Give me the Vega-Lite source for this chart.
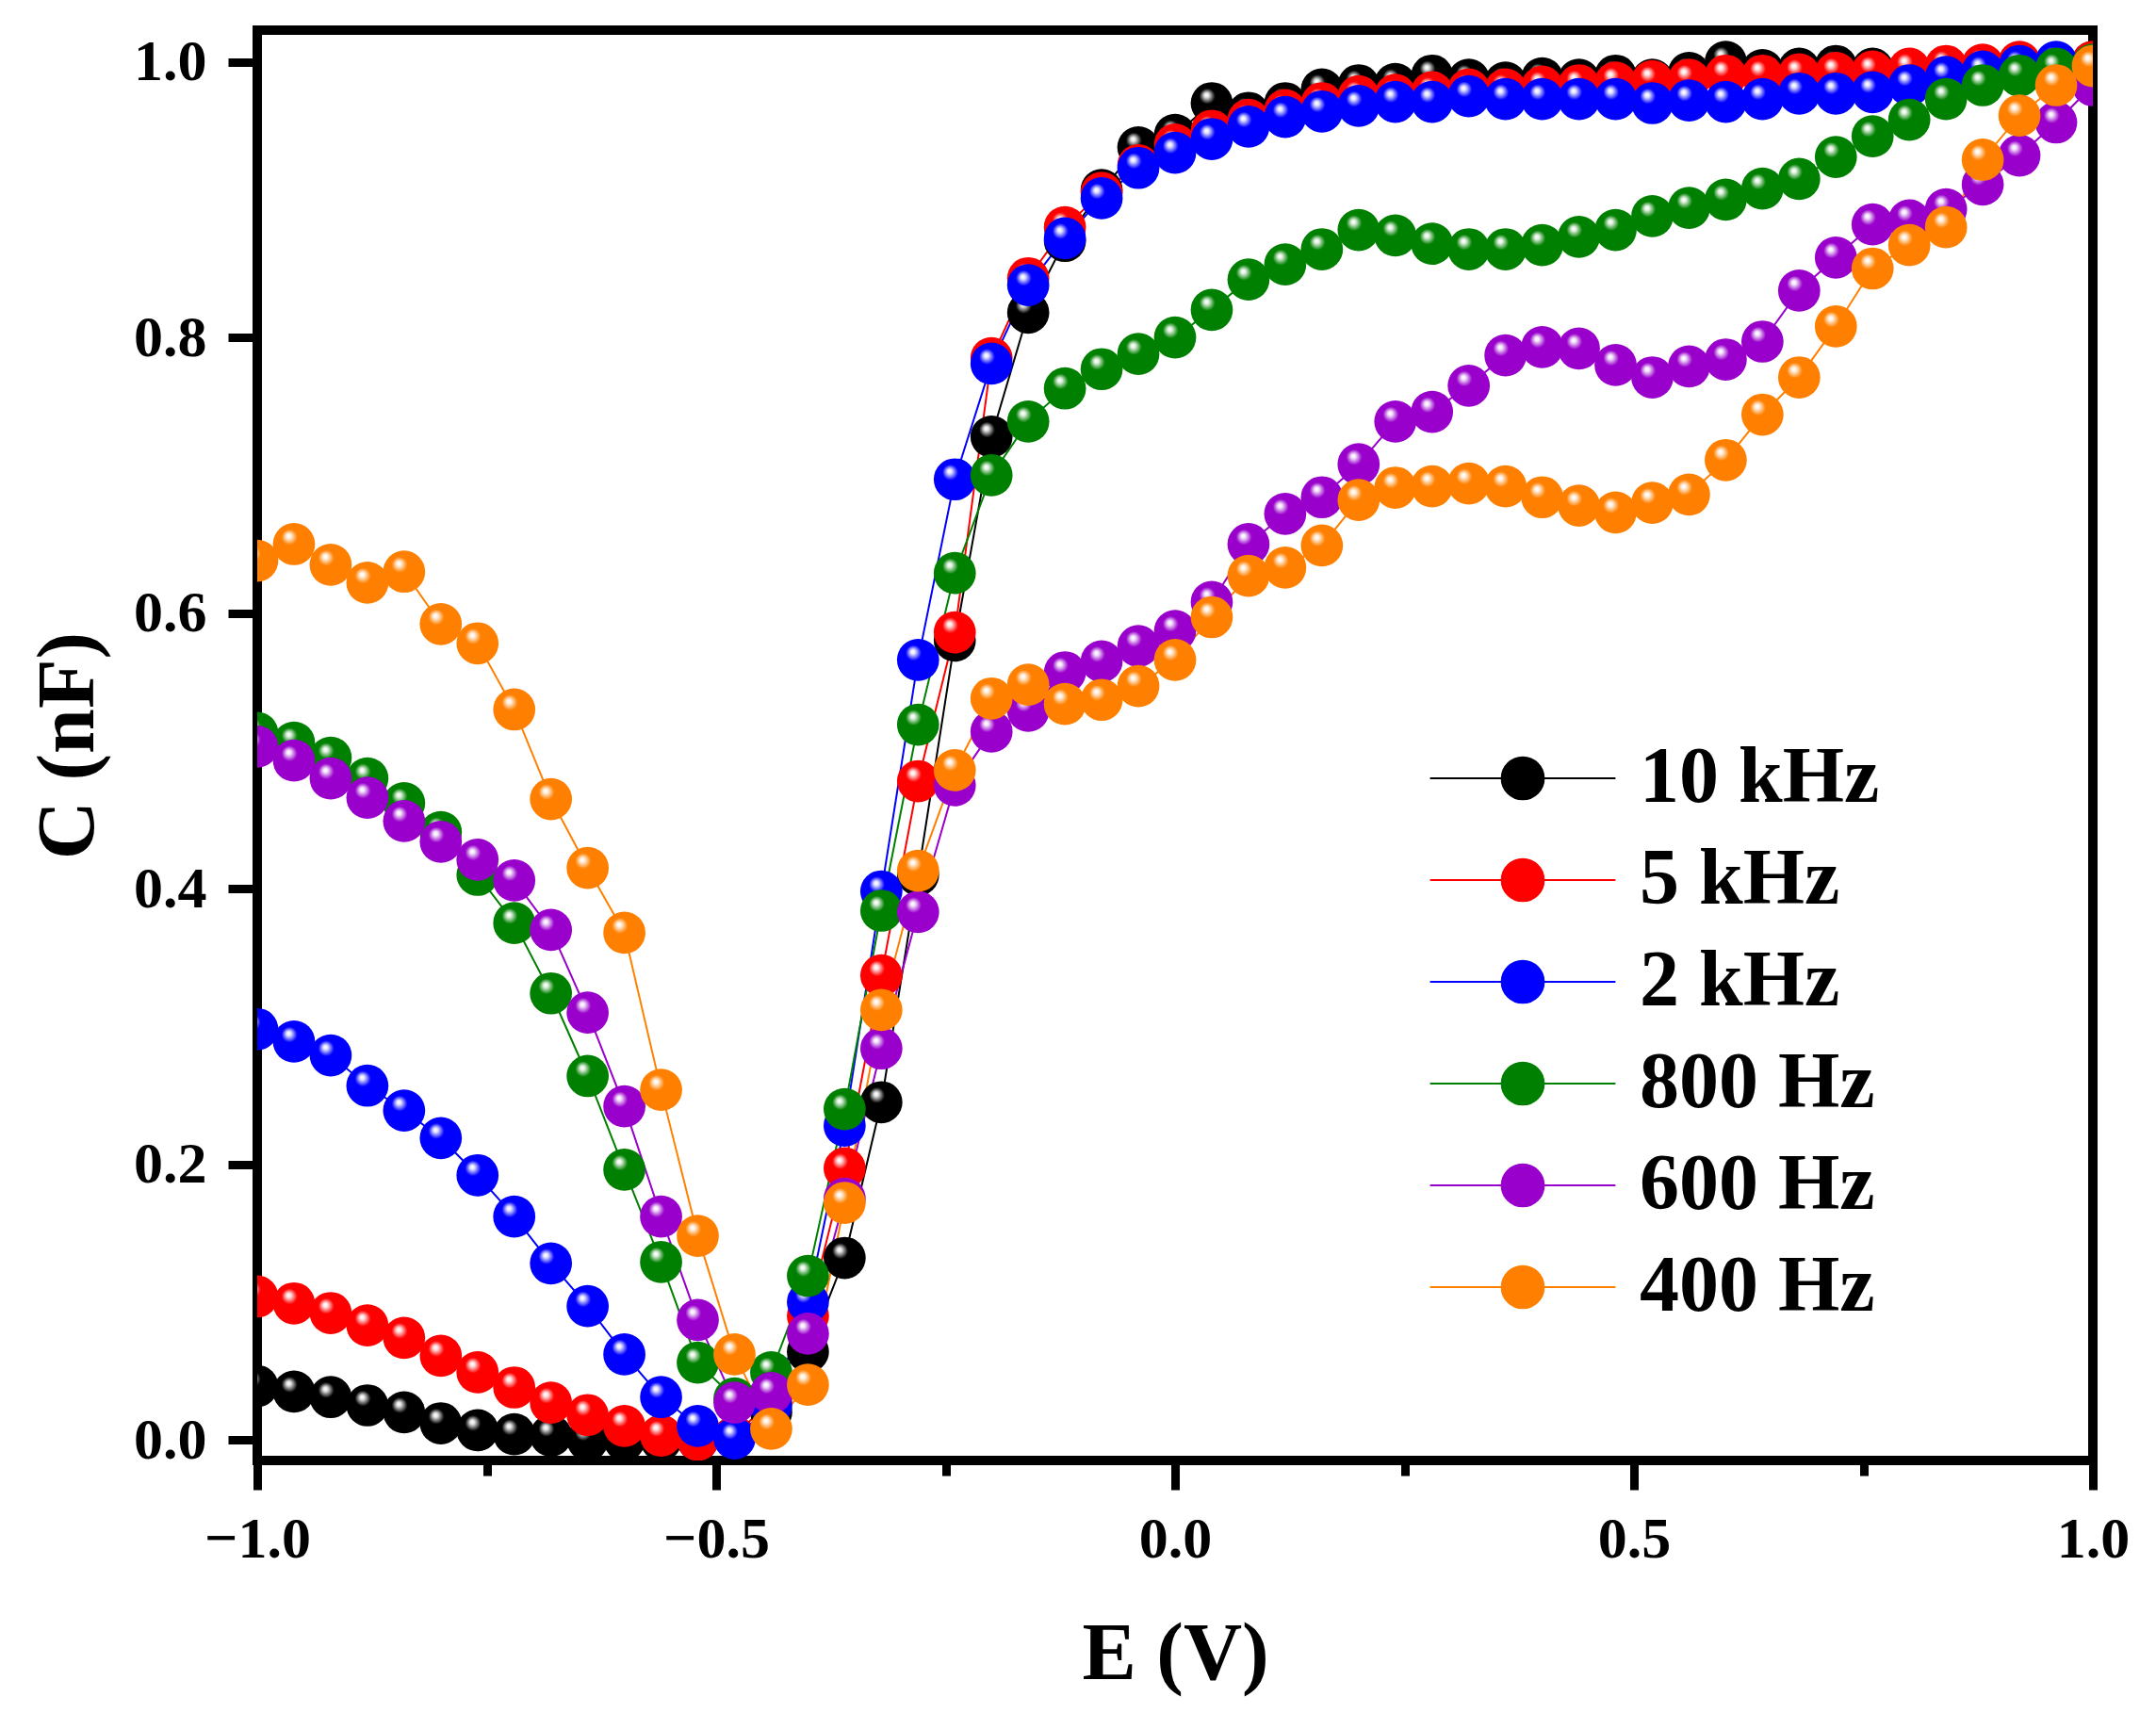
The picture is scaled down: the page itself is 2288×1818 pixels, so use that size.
{
  "$schema": "https://vega.github.io/schema/vega-lite/v6.json",
  "width": 1948,
  "height": 1518,
  "autosize": "none",
  "padding": {"left": 273, "top": 32, "right": 67, "bottom": 268},
  "background": "white",
  "config": {
    "view": {"stroke": "black", "strokeWidth": 10},
    "point": {"opacity": 1},
    "axis": {
      "domain": false, "grid": false,
      "labelFont": "Liberation Serif", "labelFontWeight": "bold", "labelFontSize": 62, "labelColor": "black",
      "titleFont": "Liberation Serif", "titleFontWeight": "bold", "titleFontSize": 86, "titleColor": "black",
      "tickColor": "black", "tickWidth": 9
    }
  },
  "data": {"values": [
    {"E":-1,"C":0.039,"f":"10 kHz"},{"E":-0.96,"C":0.035,"f":"10 kHz"},{"E":-0.92,"C":0.031,"f":"10 kHz"},{"E":-0.88,"C":0.025,"f":"10 kHz"},{"E":-0.84,"C":0.020,"f":"10 kHz"},{"E":-0.8,"C":0.012,"f":"10 kHz"},{"E":-0.76,"C":0.007,"f":"10 kHz"},{"E":-0.72,"C":0.004,"f":"10 kHz"},{"E":-0.68,"C":0.003,"f":"10 kHz"},{"E":-0.64,"C":0.0,"f":"10 kHz"},{"E":-0.6,"C":0.0,"f":"10 kHz"},{"E":-0.56,"C":0.0,"f":"10 kHz"},{"E":-0.52,"C":0.0,"f":"10 kHz"},{"E":-0.48,"C":0.002,"f":"10 kHz"},{"E":-0.44,"C":0.02,"f":"10 kHz"},{"E":-0.4,"C":0.064,"f":"10 kHz"},{"E":-0.36,"C":0.132,"f":"10 kHz"},{"E":-0.32,"C":0.245,"f":"10 kHz"},{"E":-0.28,"C":0.41,"f":"10 kHz"},{"E":-0.24,"C":0.58,"f":"10 kHz"},{"E":-0.2,"C":0.728,"f":"10 kHz"},{"E":-0.16,"C":0.818,"f":"10 kHz"},{"E":-0.12,"C":0.870,"f":"10 kHz"},{"E":-0.08,"C":0.907,"f":"10 kHz"},{"E":-0.04,"C":0.938,"f":"10 kHz"},{"E":0,"C":0.947,"f":"10 kHz"},{"E":0.04,"C":0.970,"f":"10 kHz"},{"E":0.08,"C":0.963,"f":"10 kHz"},{"E":0.12,"C":0.970,"f":"10 kHz"},{"E":0.16,"C":0.980,"f":"10 kHz"},{"E":0.2,"C":0.983,"f":"10 kHz"},{"E":0.24,"C":0.984,"f":"10 kHz"},{"E":0.28,"C":0.990,"f":"10 kHz"},{"E":0.32,"C":0.987,"f":"10 kHz"},{"E":0.36,"C":0.985,"f":"10 kHz"},{"E":0.4,"C":0.988,"f":"10 kHz"},{"E":0.44,"C":0.987,"f":"10 kHz"},{"E":0.48,"C":0.990,"f":"10 kHz"},{"E":0.52,"C":0.987,"f":"10 kHz"},{"E":0.56,"C":0.992,"f":"10 kHz"},{"E":0.6,"C":1.0,"f":"10 kHz"},{"E":0.64,"C":0.994,"f":"10 kHz"},{"E":0.68,"C":0.995,"f":"10 kHz"},{"E":0.72,"C":0.997,"f":"10 kHz"},{"E":0.76,"C":0.995,"f":"10 kHz"},{"E":0.8,"C":0.994,"f":"10 kHz"},{"E":0.84,"C":0.996,"f":"10 kHz"},{"E":0.88,"C":0.997,"f":"10 kHz"},{"E":0.92,"C":0.998,"f":"10 kHz"},{"E":0.96,"C":0.998,"f":"10 kHz"},{"E":1,"C":1.0,"f":"10 kHz"},
    {"E":-1,"C":0.104,"f":"5 kHz"},{"E":-0.96,"C":0.099,"f":"5 kHz"},{"E":-0.92,"C":0.092,"f":"5 kHz"},{"E":-0.88,"C":0.083,"f":"5 kHz"},{"E":-0.84,"C":0.074,"f":"5 kHz"},{"E":-0.8,"C":0.061,"f":"5 kHz"},{"E":-0.76,"C":0.049,"f":"5 kHz"},{"E":-0.72,"C":0.038,"f":"5 kHz"},{"E":-0.68,"C":0.027,"f":"5 kHz"},{"E":-0.64,"C":0.018,"f":"5 kHz"},{"E":-0.6,"C":0.010,"f":"5 kHz"},{"E":-0.56,"C":0.003,"f":"5 kHz"},{"E":-0.52,"C":0.0,"f":"5 kHz"},{"E":-0.48,"C":0.002,"f":"5 kHz"},{"E":-0.44,"C":0.03,"f":"5 kHz"},{"E":-0.4,"C":0.09,"f":"5 kHz"},{"E":-0.36,"C":0.197,"f":"5 kHz"},{"E":-0.32,"C":0.337,"f":"5 kHz"},{"E":-0.28,"C":0.478,"f":"5 kHz"},{"E":-0.24,"C":0.586,"f":"5 kHz"},{"E":-0.2,"C":0.785,"f":"5 kHz"},{"E":-0.16,"C":0.843,"f":"5 kHz"},{"E":-0.12,"C":0.880,"f":"5 kHz"},{"E":-0.08,"C":0.905,"f":"5 kHz"},{"E":-0.04,"C":0.925,"f":"5 kHz"},{"E":0,"C":0.940,"f":"5 kHz"},{"E":0.04,"C":0.950,"f":"5 kHz"},{"E":0.08,"C":0.958,"f":"5 kHz"},{"E":0.12,"C":0.965,"f":"5 kHz"},{"E":0.16,"C":0.970,"f":"5 kHz"},{"E":0.2,"C":0.975,"f":"5 kHz"},{"E":0.24,"C":0.976,"f":"5 kHz"},{"E":0.28,"C":0.978,"f":"5 kHz"},{"E":0.32,"C":0.980,"f":"5 kHz"},{"E":0.36,"C":0.980,"f":"5 kHz"},{"E":0.4,"C":0.982,"f":"5 kHz"},{"E":0.44,"C":0.983,"f":"5 kHz"},{"E":0.48,"C":0.985,"f":"5 kHz"},{"E":0.52,"C":0.986,"f":"5 kHz"},{"E":0.56,"C":0.987,"f":"5 kHz"},{"E":0.6,"C":0.990,"f":"5 kHz"},{"E":0.64,"C":0.990,"f":"5 kHz"},{"E":0.68,"C":0.991,"f":"5 kHz"},{"E":0.72,"C":0.992,"f":"5 kHz"},{"E":0.76,"C":0.993,"f":"5 kHz"},{"E":0.8,"C":0.995,"f":"5 kHz"},{"E":0.84,"C":0.997,"f":"5 kHz"},{"E":0.88,"C":0.998,"f":"5 kHz"},{"E":0.92,"C":1.0,"f":"5 kHz"},{"E":0.96,"C":0.998,"f":"5 kHz"},{"E":1,"C":1.0,"f":"5 kHz"},
    {"E":-1,"C":0.298,"f":"2 kHz"},{"E":-0.96,"C":0.289,"f":"2 kHz"},{"E":-0.92,"C":0.279,"f":"2 kHz"},{"E":-0.88,"C":0.257,"f":"2 kHz"},{"E":-0.84,"C":0.239,"f":"2 kHz"},{"E":-0.8,"C":0.219,"f":"2 kHz"},{"E":-0.76,"C":0.192,"f":"2 kHz"},{"E":-0.72,"C":0.162,"f":"2 kHz"},{"E":-0.68,"C":0.128,"f":"2 kHz"},{"E":-0.64,"C":0.097,"f":"2 kHz"},{"E":-0.6,"C":0.062,"f":"2 kHz"},{"E":-0.56,"C":0.031,"f":"2 kHz"},{"E":-0.52,"C":0.010,"f":"2 kHz"},{"E":-0.48,"C":0.001,"f":"2 kHz"},{"E":-0.44,"C":0.025,"f":"2 kHz"},{"E":-0.4,"C":0.100,"f":"2 kHz"},{"E":-0.36,"C":0.228,"f":"2 kHz"},{"E":-0.32,"C":0.398,"f":"2 kHz"},{"E":-0.28,"C":0.566,"f":"2 kHz"},{"E":-0.24,"C":0.697,"f":"2 kHz"},{"E":-0.2,"C":0.781,"f":"2 kHz"},{"E":-0.16,"C":0.838,"f":"2 kHz"},{"E":-0.12,"C":0.872,"f":"2 kHz"},{"E":-0.08,"C":0.901,"f":"2 kHz"},{"E":-0.04,"C":0.923,"f":"2 kHz"},{"E":0,"C":0.934,"f":"2 kHz"},{"E":0.04,"C":0.944,"f":"2 kHz"},{"E":0.08,"C":0.953,"f":"2 kHz"},{"E":0.12,"C":0.960,"f":"2 kHz"},{"E":0.16,"C":0.964,"f":"2 kHz"},{"E":0.2,"C":0.968,"f":"2 kHz"},{"E":0.24,"C":0.971,"f":"2 kHz"},{"E":0.28,"C":0.971,"f":"2 kHz"},{"E":0.32,"C":0.975,"f":"2 kHz"},{"E":0.36,"C":0.973,"f":"2 kHz"},{"E":0.4,"C":0.973,"f":"2 kHz"},{"E":0.44,"C":0.973,"f":"2 kHz"},{"E":0.48,"C":0.973,"f":"2 kHz"},{"E":0.52,"C":0.970,"f":"2 kHz"},{"E":0.56,"C":0.972,"f":"2 kHz"},{"E":0.6,"C":0.971,"f":"2 kHz"},{"E":0.64,"C":0.973,"f":"2 kHz"},{"E":0.68,"C":0.977,"f":"2 kHz"},{"E":0.72,"C":0.977,"f":"2 kHz"},{"E":0.76,"C":0.978,"f":"2 kHz"},{"E":0.8,"C":0.983,"f":"2 kHz"},{"E":0.84,"C":0.989,"f":"2 kHz"},{"E":0.88,"C":0.993,"f":"2 kHz"},{"E":0.92,"C":0.997,"f":"2 kHz"},{"E":0.96,"C":1.0,"f":"2 kHz"},{"E":1,"C":0.995,"f":"2 kHz"},
    {"E":-1,"C":0.513,"f":"800 Hz"},{"E":-0.96,"C":0.506,"f":"800 Hz"},{"E":-0.92,"C":0.495,"f":"800 Hz"},{"E":-0.88,"C":0.480,"f":"800 Hz"},{"E":-0.84,"C":0.462,"f":"800 Hz"},{"E":-0.8,"C":0.441,"f":"800 Hz"},{"E":-0.76,"C":0.410,"f":"800 Hz"},{"E":-0.72,"C":0.375,"f":"800 Hz"},{"E":-0.68,"C":0.324,"f":"800 Hz"},{"E":-0.64,"C":0.264,"f":"800 Hz"},{"E":-0.6,"C":0.196,"f":"800 Hz"},{"E":-0.56,"C":0.129,"f":"800 Hz"},{"E":-0.52,"C":0.056,"f":"800 Hz"},{"E":-0.48,"C":0.03,"f":"800 Hz"},{"E":-0.44,"C":0.049,"f":"800 Hz"},{"E":-0.4,"C":0.119,"f":"800 Hz"},{"E":-0.36,"C":0.240,"f":"800 Hz"},{"E":-0.32,"C":0.384,"f":"800 Hz"},{"E":-0.28,"C":0.519,"f":"800 Hz"},{"E":-0.24,"C":0.629,"f":"800 Hz"},{"E":-0.2,"C":0.700,"f":"800 Hz"},{"E":-0.16,"C":0.739,"f":"800 Hz"},{"E":-0.12,"C":0.763,"f":"800 Hz"},{"E":-0.08,"C":0.777,"f":"800 Hz"},{"E":-0.04,"C":0.788,"f":"800 Hz"},{"E":0,"C":0.800,"f":"800 Hz"},{"E":0.04,"C":0.820,"f":"800 Hz"},{"E":0.08,"C":0.842,"f":"800 Hz"},{"E":0.12,"C":0.853,"f":"800 Hz"},{"E":0.16,"C":0.864,"f":"800 Hz"},{"E":0.2,"C":0.878,"f":"800 Hz"},{"E":0.24,"C":0.874,"f":"800 Hz"},{"E":0.28,"C":0.868,"f":"800 Hz"},{"E":0.32,"C":0.864,"f":"800 Hz"},{"E":0.36,"C":0.864,"f":"800 Hz"},{"E":0.4,"C":0.867,"f":"800 Hz"},{"E":0.44,"C":0.873,"f":"800 Hz"},{"E":0.48,"C":0.878,"f":"800 Hz"},{"E":0.52,"C":0.888,"f":"800 Hz"},{"E":0.56,"C":0.894,"f":"800 Hz"},{"E":0.6,"C":0.900,"f":"800 Hz"},{"E":0.64,"C":0.908,"f":"800 Hz"},{"E":0.68,"C":0.915,"f":"800 Hz"},{"E":0.72,"C":0.931,"f":"800 Hz"},{"E":0.76,"C":0.946,"f":"800 Hz"},{"E":0.8,"C":0.958,"f":"800 Hz"},{"E":0.84,"C":0.973,"f":"800 Hz"},{"E":0.88,"C":0.983,"f":"800 Hz"},{"E":0.92,"C":0.990,"f":"800 Hz"},{"E":0.96,"C":0.995,"f":"800 Hz"},{"E":1,"C":0.998,"f":"800 Hz"},
    {"E":-1,"C":0.503,"f":"600 Hz"},{"E":-0.96,"C":0.493,"f":"600 Hz"},{"E":-0.92,"C":0.480,"f":"600 Hz"},{"E":-0.88,"C":0.466,"f":"600 Hz"},{"E":-0.84,"C":0.449,"f":"600 Hz"},{"E":-0.8,"C":0.434,"f":"600 Hz"},{"E":-0.76,"C":0.421,"f":"600 Hz"},{"E":-0.72,"C":0.406,"f":"600 Hz"},{"E":-0.68,"C":0.370,"f":"600 Hz"},{"E":-0.64,"C":0.310,"f":"600 Hz"},{"E":-0.6,"C":0.242,"f":"600 Hz"},{"E":-0.56,"C":0.162,"f":"600 Hz"},{"E":-0.52,"C":0.087,"f":"600 Hz"},{"E":-0.48,"C":0.027,"f":"600 Hz"},{"E":-0.44,"C":0.034,"f":"600 Hz"},{"E":-0.4,"C":0.077,"f":"600 Hz"},{"E":-0.36,"C":0.175,"f":"600 Hz"},{"E":-0.32,"C":0.284,"f":"600 Hz"},{"E":-0.28,"C":0.383,"f":"600 Hz"},{"E":-0.24,"C":0.475,"f":"600 Hz"},{"E":-0.2,"C":0.514,"f":"600 Hz"},{"E":-0.16,"C":0.529,"f":"600 Hz"},{"E":-0.12,"C":0.557,"f":"600 Hz"},{"E":-0.08,"C":0.565,"f":"600 Hz"},{"E":-0.04,"C":0.576,"f":"600 Hz"},{"E":0,"C":0.587,"f":"600 Hz"},{"E":0.04,"C":0.608,"f":"600 Hz"},{"E":0.08,"C":0.650,"f":"600 Hz"},{"E":0.12,"C":0.672,"f":"600 Hz"},{"E":0.16,"C":0.684,"f":"600 Hz"},{"E":0.2,"C":0.708,"f":"600 Hz"},{"E":0.24,"C":0.739,"f":"600 Hz"},{"E":0.28,"C":0.746,"f":"600 Hz"},{"E":0.32,"C":0.765,"f":"600 Hz"},{"E":0.36,"C":0.787,"f":"600 Hz"},{"E":0.4,"C":0.793,"f":"600 Hz"},{"E":0.44,"C":0.792,"f":"600 Hz"},{"E":0.48,"C":0.780,"f":"600 Hz"},{"E":0.52,"C":0.771,"f":"600 Hz"},{"E":0.56,"C":0.779,"f":"600 Hz"},{"E":0.6,"C":0.784,"f":"600 Hz"},{"E":0.64,"C":0.797,"f":"600 Hz"},{"E":0.68,"C":0.834,"f":"600 Hz"},{"E":0.72,"C":0.858,"f":"600 Hz"},{"E":0.76,"C":0.882,"f":"600 Hz"},{"E":0.8,"C":0.885,"f":"600 Hz"},{"E":0.84,"C":0.893,"f":"600 Hz"},{"E":0.88,"C":0.911,"f":"600 Hz"},{"E":0.92,"C":0.932,"f":"600 Hz"},{"E":0.96,"C":0.956,"f":"600 Hz"},{"E":1,"C":0.983,"f":"600 Hz"},
    {"E":-1,"C":0.638,"f":"400 Hz"},{"E":-0.96,"C":0.650,"f":"400 Hz"},{"E":-0.92,"C":0.635,"f":"400 Hz"},{"E":-0.88,"C":0.622,"f":"400 Hz"},{"E":-0.84,"C":0.630,"f":"400 Hz"},{"E":-0.8,"C":0.592,"f":"400 Hz"},{"E":-0.76,"C":0.578,"f":"400 Hz"},{"E":-0.72,"C":0.530,"f":"400 Hz"},{"E":-0.68,"C":0.465,"f":"400 Hz"},{"E":-0.64,"C":0.415,"f":"400 Hz"},{"E":-0.6,"C":0.368,"f":"400 Hz"},{"E":-0.56,"C":0.254,"f":"400 Hz"},{"E":-0.52,"C":0.148,"f":"400 Hz"},{"E":-0.48,"C":0.062,"f":"400 Hz"},{"E":-0.44,"C":0.008,"f":"400 Hz"},{"E":-0.4,"C":0.040,"f":"400 Hz"},{"E":-0.36,"C":0.172,"f":"400 Hz"},{"E":-0.32,"C":0.312,"f":"400 Hz"},{"E":-0.28,"C":0.413,"f":"400 Hz"},{"E":-0.24,"C":0.486,"f":"400 Hz"},{"E":-0.2,"C":0.538,"f":"400 Hz"},{"E":-0.16,"C":0.548,"f":"400 Hz"},{"E":-0.12,"C":0.534,"f":"400 Hz"},{"E":-0.08,"C":0.537,"f":"400 Hz"},{"E":-0.04,"C":0.547,"f":"400 Hz"},{"E":0,"C":0.566,"f":"400 Hz"},{"E":0.04,"C":0.597,"f":"400 Hz"},{"E":0.08,"C":0.627,"f":"400 Hz"},{"E":0.12,"C":0.633,"f":"400 Hz"},{"E":0.16,"C":0.649,"f":"400 Hz"},{"E":0.2,"C":0.682,"f":"400 Hz"},{"E":0.24,"C":0.691,"f":"400 Hz"},{"E":0.28,"C":0.692,"f":"400 Hz"},{"E":0.32,"C":0.694,"f":"400 Hz"},{"E":0.36,"C":0.692,"f":"400 Hz"},{"E":0.4,"C":0.684,"f":"400 Hz"},{"E":0.44,"C":0.678,"f":"400 Hz"},{"E":0.48,"C":0.673,"f":"400 Hz"},{"E":0.52,"C":0.680,"f":"400 Hz"},{"E":0.56,"C":0.686,"f":"400 Hz"},{"E":0.6,"C":0.711,"f":"400 Hz"},{"E":0.64,"C":0.744,"f":"400 Hz"},{"E":0.68,"C":0.771,"f":"400 Hz"},{"E":0.72,"C":0.808,"f":"400 Hz"},{"E":0.76,"C":0.850,"f":"400 Hz"},{"E":0.8,"C":0.867,"f":"400 Hz"},{"E":0.84,"C":0.880,"f":"400 Hz"},{"E":0.88,"C":0.929,"f":"400 Hz"},{"E":0.92,"C":0.961,"f":"400 Hz"},{"E":0.96,"C":0.983,"f":"400 Hz"},{"E":1,"C":0.997,"f":"400 Hz"}
  ]},
  "encoding": {
    "x": {
      "field": "E", "type": "quantitative",
      "scale": {"domain": [-1, 1], "nice": false, "zero": false},
      "axis": {
        "title": "E (V)", "titlePadding": 49,
        "values": [-1, -0.75, -0.5, -0.25, 0, 0.25, 0.5, 0.75, 1],
        "labelExpr": "abs(datum.value * 2 - round(datum.value * 2)) < 0.01 ? format(datum.value, '.1f') : ''",
        "tickSize": {"condition": {"test": "abs(datum.value * 2 - round(datum.value * 2)) < 0.01", "value": 31}, "value": 16},
        "labelPadding": 22, "labelFlush": false, "labelOverlap": false
      }
    },
    "y": {
      "field": "C", "type": "quantitative",
      "scale": {"domain": [-0.015, 1.023], "nice": false, "zero": false},
      "axis": {
        "title": "C (nF)", "titlePadding": 25,
        "values": [0, 0.2, 0.4, 0.6, 0.8, 1.0], "format": ".1f",
        "tickSize": 31, "labelPadding": 23, "labelFlush": false, "labelOverlap": false
      }
    }
  },
  "layer": [
    {
      "mark": {"type": "line", "strokeWidth": 2, "clip": true},
      "encoding": {
        "color": {
          "field": "f", "type": "nominal",
          "scale": {"domain": ["10 kHz", "5 kHz", "2 kHz", "800 Hz", "600 Hz", "400 Hz"], "range": ["#000000", "#ff0000", "#0000ff", "#008000", "#9900cc", "#ff8000"]},
          "legend": {
            "title": null, "orient": "none", "legendX": 1301, "legendY": 752, "padding": 0,
            "symbolType": "M-4.4,0L4.4,0M-1,0A1,1,0,1,1,1,0A1,1,0,1,1,-1,0Z",
            "symbolSize": 2000, "symbolStrokeWidth": 2,
            "labelFont": "Liberation Serif", "labelFontWeight": "bold", "labelFontSize": 84, "labelColor": "black",
            "labelOffset": 82, "rowPadding": 24, "labelLimit": 0,
            "encode": {"symbols": {"update": {
              "fill": {"scale": "color", "field": "value"},
              "stroke": {"scale": "color", "field": "value"},
              "opacity": {"value": 1}
            }}}
          }
        }
      }
    },
    {
      "transform": [{"filter": "datum.f === '10 kHz'"}],
      "mark": {"type": "point", "filled": true, "opacity": 1, "size": 2000, "strokeWidth": 0, "clip": true,
        "fill": {"gradient": "radial", "x1": 0.37, "y1": 0.3, "r1": 0, "x2": 0.45, "y2": 0.42, "r2": 0.62,
          "stops": [{"offset": 0, "color": "#ffffff"}, {"offset": 0.08, "color": "#e8e8e8"}, {"offset": 0.3, "color": "#000000"}, {"offset": 1, "color": "#000000"}]}}
    },
    {
      "transform": [{"filter": "datum.f === '5 kHz'"}],
      "mark": {"type": "point", "filled": true, "opacity": 1, "size": 2000, "strokeWidth": 0, "clip": true,
        "fill": {"gradient": "radial", "x1": 0.37, "y1": 0.3, "r1": 0, "x2": 0.45, "y2": 0.42, "r2": 0.62,
          "stops": [{"offset": 0, "color": "#ffffff"}, {"offset": 0.08, "color": "#ffe8e8"}, {"offset": 0.3, "color": "#ff0000"}, {"offset": 1, "color": "#ff0000"}]}}
    },
    {
      "transform": [{"filter": "datum.f === '2 kHz'"}],
      "mark": {"type": "point", "filled": true, "opacity": 1, "size": 2000, "strokeWidth": 0, "clip": true,
        "fill": {"gradient": "radial", "x1": 0.37, "y1": 0.3, "r1": 0, "x2": 0.45, "y2": 0.42, "r2": 0.62,
          "stops": [{"offset": 0, "color": "#ffffff"}, {"offset": 0.08, "color": "#e8e8ff"}, {"offset": 0.3, "color": "#0000ff"}, {"offset": 1, "color": "#0000ff"}]}}
    },
    {
      "transform": [{"filter": "datum.f === '800 Hz'"}],
      "mark": {"type": "point", "filled": true, "opacity": 1, "size": 2000, "strokeWidth": 0, "clip": true,
        "fill": {"gradient": "radial", "x1": 0.37, "y1": 0.3, "r1": 0, "x2": 0.45, "y2": 0.42, "r2": 0.62,
          "stops": [{"offset": 0, "color": "#ffffff"}, {"offset": 0.08, "color": "#e8f4e8"}, {"offset": 0.3, "color": "#008000"}, {"offset": 1, "color": "#008000"}]}}
    },
    {
      "transform": [{"filter": "datum.f === '600 Hz'"}],
      "mark": {"type": "point", "filled": true, "opacity": 1, "size": 2000, "strokeWidth": 0, "clip": true,
        "fill": {"gradient": "radial", "x1": 0.37, "y1": 0.3, "r1": 0, "x2": 0.45, "y2": 0.42, "r2": 0.62,
          "stops": [{"offset": 0, "color": "#ffffff"}, {"offset": 0.08, "color": "#f4e8fa"}, {"offset": 0.3, "color": "#9900cc"}, {"offset": 1, "color": "#9900cc"}]}}
    },
    {
      "transform": [{"filter": "datum.f === '400 Hz'"}],
      "mark": {"type": "point", "filled": true, "opacity": 1, "size": 2000, "strokeWidth": 0, "clip": true,
        "fill": {"gradient": "radial", "x1": 0.37, "y1": 0.3, "r1": 0, "x2": 0.45, "y2": 0.42, "r2": 0.62,
          "stops": [{"offset": 0, "color": "#ffffff"}, {"offset": 0.08, "color": "#fff4e8"}, {"offset": 0.3, "color": "#ff8000"}, {"offset": 1, "color": "#ff8000"}]}}
    }
  ]
}
